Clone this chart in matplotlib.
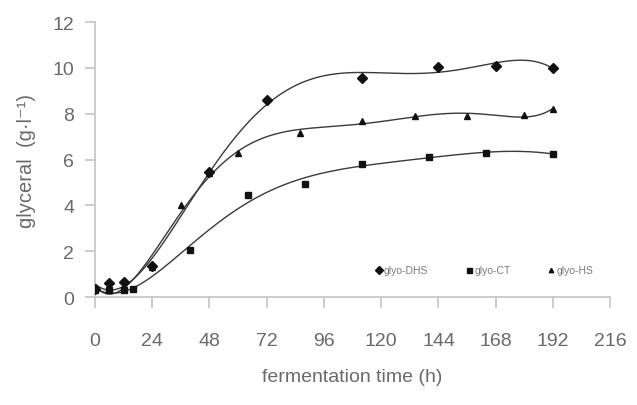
import matplotlib
matplotlib.use("Agg")
import matplotlib.pyplot as plt
import numpy as np

plt.rcParams['font.family'] = ['Liberation Sans', 'DejaVu Sans']

# glycerol production (g/l) vs fermentation time (h)
t_dhs = [0, 6, 12, 24, 48, 72, 112, 144, 168, 192]
glyo_dhs = [0.35, 0.6, 0.65, 1.35, 5.45, 8.6, 9.55, 10.05, 10.1, 10.0]

t_ct = [0, 6, 12, 16, 40, 64, 88, 112, 140, 164, 192]
glyo_ct = [0.3, 0.3, 0.3, 0.35, 2.05, 4.45, 4.95, 5.8, 6.1, 6.3, 6.25]

t_hs = [0, 6, 12, 24, 36, 48, 60, 86, 112, 134, 156, 180, 192]
glyo_hs = [0.35, 0.35, 0.5, 1.3, 4.0, 5.4, 6.3, 7.15, 7.7, 7.9, 7.9, 7.95, 8.2]

x_ticks = [0, 24, 48, 72, 96, 120, 144, 168, 192, 216]
y_ticks = [0, 2, 4, 6, 8, 10, 12]

line_col = '#3a3a3a'
text_col = '#6a6a6a'
axis_col = '#c4c4c4'

fig = plt.figure(figsize=(6.37, 4.06), dpi=100, facecolor='w')
ax = fig.add_axes([0.149, 0.266, 0.809, 0.677])

series = [
    (t_dhs, glyo_dhs, 'D', 5.5, 'glyo-DHS'),
    (t_ct, glyo_ct, 's', 4.5, 'glyo-CT'),
    (t_hs, glyo_hs, '^', 4.0, 'glyo-HS'),
]

handles = []
for tt, vals, mk, ms, name in series:
    # smooth trend line (6th order polynomial, as in the spreadsheet)
    poly = np.polynomial.Polynomial.fit(tt, vals, 6)
    xx = np.linspace(0, max(tt), 300)
    ax.plot(xx, poly(xx), color=line_col, lw=1.0, zorder=2)
    h, = ax.plot(tt, vals, linestyle='none', marker=mk, ms=ms,
                 color='#111111', zorder=3, label=name)
    handles.append(h)

ax.set_xlim(0, 216)
ax.set_ylim(0, 12)
ax.set_xticks(x_ticks)
ax.set_yticks(y_ticks)

for side in ['top', 'right']:
    ax.spines[side].set_visible(False)
for side in ['left', 'bottom']:
    ax.spines[side].set_color(axis_col)
    ax.spines[side].set_linewidth(1.2)

ax.tick_params(axis='x', direction='out', length=8, width=1.2, color=axis_col,
               labelsize=14, labelcolor=text_col, pad=17)
ax.tick_params(axis='y', direction='out', length=7, width=1.2, color=axis_col,
               labelsize=14, labelcolor=text_col, pad=8)

ax.set_xlabel('fermentation time (h)', fontsize=14, color=text_col, labelpad=14)
ax.set_ylabel('glyceral  (g·l⁻¹)', fontsize=14.5, color=text_col, labelpad=12)

leg = ax.legend(handles=handles, loc='lower right', ncol=3, frameon=False,
                fontsize=7.5, handlelength=0.6, handletextpad=0.2,
                columnspacing=3.6, markerscale=0.8,
                bbox_to_anchor=(0.985, 0.045))
for txt in leg.get_texts():
    txt.set_color('#7a7a7a')

plt.savefig('out.png', dpi=100, facecolor='w')
